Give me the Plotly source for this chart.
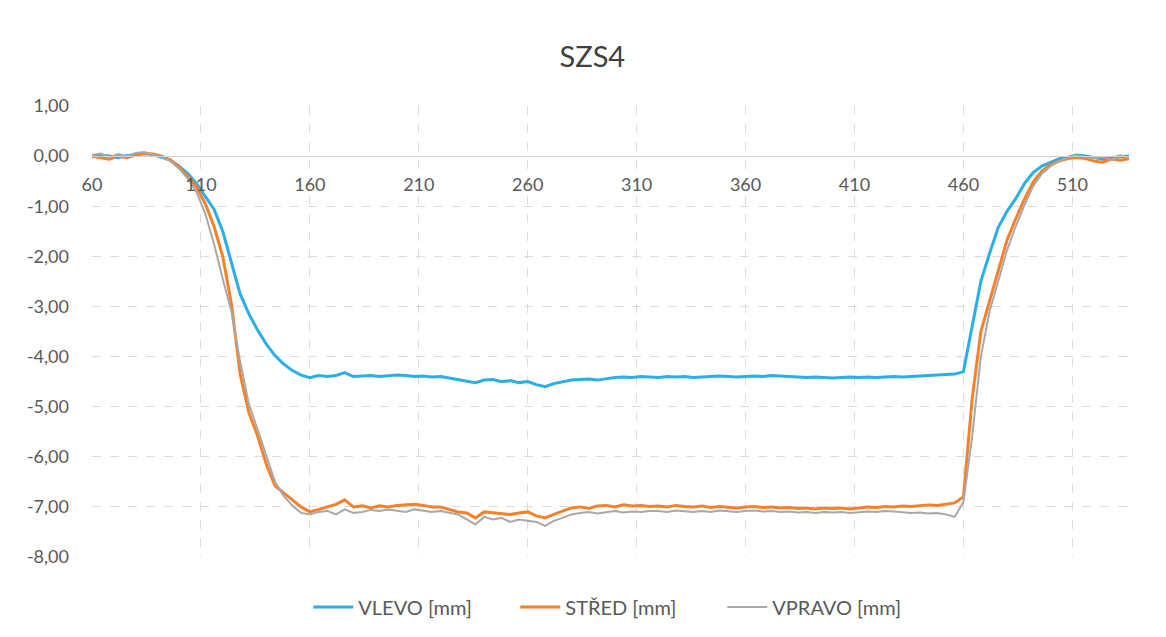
import plotly.graph_objects as go

# Measurement positions along the profile [mm]
position = list(range(60, 537, 4))

# Surface deviation [mm] for the three measuring lines
vlevo = [
    -0.02, 0.02, 0.00, -0.03, 0.01, 0.03, 0.05, 0.03, -0.02, -0.08,
    -0.20, -0.35, -0.55, -0.80, -1.06, -1.50, -2.10, -2.75, -3.15, -3.47,
    -3.75, -3.98, -4.15, -4.28, -4.37, -4.42,
    -4.38, -4.40, -4.38, -4.32, -4.40, -4.39, -4.38, -4.40, -4.39, -4.37,
    -4.38, -4.40, -4.39, -4.41, -4.40, -4.43, -4.45, -4.48, -4.52, -4.47,
    -4.46, -4.50, -4.48, -4.52, -4.50, -4.56, -4.60, -4.54, -4.50, -4.47,
    -4.46, -4.45, -4.47, -4.44, -4.42, -4.41, -4.42, -4.40, -4.41,
    -4.42, -4.40, -4.41, -4.40, -4.42, -4.41, -4.40, -4.39, -4.40, -4.41,
    -4.40, -4.39, -4.40, -4.38, -4.39, -4.40, -4.41, -4.42, -4.41, -4.42,
    -4.43, -4.42, -4.41, -4.42, -4.41, -4.42, -4.41, -4.40, -4.41, -4.40,
    -4.39, -4.39, -4.38, -4.37, -4.35,
    -4.30, -3.40, -2.50, -1.94, -1.42, -1.10, -0.85, -0.55, -0.33, -0.20,
    -0.12, -0.05, -0.02, 0.02, 0.00, -0.03, -0.06, -0.03, -0.02, 0.00,
]

stred = [
    0.00, -0.03, -0.06, 0.00, -0.03, 0.02, 0.05, 0.04, 0.00, -0.08,
    -0.22, -0.40, -0.62, -0.95, -1.40, -2.00, -2.95, -4.35, -5.12, -5.58,
    -6.15, -6.58, -6.72, -6.85, -7.00, -7.10,
    -7.05, -7.00, -6.95, -6.86, -7.00, -6.98, -7.02, -6.98, -7.00, -6.97,
    -6.96, -6.95, -6.97, -7.00, -7.00, -7.05, -7.10, -7.12, -7.22, -7.10,
    -7.12, -7.14, -7.15, -7.12, -7.10, -7.18, -7.22, -7.15, -7.08, -7.02,
    -7.00, -7.03, -6.98, -6.97, -7.00, -6.96, -6.98, -6.97, -6.99,
    -6.98, -7.00, -6.97, -6.99, -7.00, -6.98, -7.01, -6.99, -7.00, -7.02,
    -7.00, -6.99, -7.01, -7.00, -7.02, -7.01, -7.03, -7.02, -7.04, -7.02,
    -7.03, -7.02, -7.04, -7.02, -7.00, -7.01, -6.99, -7.00, -6.98, -6.99,
    -6.97, -6.96, -6.97, -6.95, -6.92,
    -6.80, -4.85, -3.50, -2.88, -2.30, -1.68, -1.25, -0.86, -0.52, -0.30,
    -0.17, -0.10, -0.05, -0.03, -0.05, -0.10, -0.12, -0.06, -0.08, -0.05,
]

vpravo = [
    0.02, 0.05, -0.02, 0.04, 0.00, 0.06, 0.08, 0.03, -0.02, -0.10,
    -0.25, -0.45, -0.72, -1.15, -1.75, -2.45, -3.10, -4.10, -4.95, -5.45,
    -6.00, -6.50, -6.78, -6.98, -7.12, -7.15,
    -7.10, -7.08, -7.15, -7.05, -7.12, -7.10, -7.06, -7.08, -7.05, -7.07,
    -7.10, -7.05, -7.08, -7.10, -7.08, -7.12, -7.15, -7.25, -7.35, -7.20,
    -7.25, -7.22, -7.30, -7.25, -7.28, -7.30, -7.38, -7.28, -7.22, -7.15,
    -7.12, -7.10, -7.13, -7.10, -7.08, -7.11, -7.09, -7.10, -7.08,
    -7.08, -7.10, -7.07, -7.09, -7.10, -7.08, -7.10, -7.07, -7.09, -7.10,
    -7.08, -7.07, -7.09, -7.08, -7.10, -7.09, -7.11, -7.10, -7.12, -7.10,
    -7.11, -7.10, -7.12, -7.10, -7.09, -7.10, -7.08, -7.09, -7.10, -7.12,
    -7.11, -7.13, -7.12, -7.15, -7.20,
    -6.90, -5.60, -4.00, -3.10, -2.50, -1.88, -1.40, -0.98, -0.60, -0.35,
    -0.20, -0.10, -0.03, 0.02, -0.02, -0.04, -0.02, -0.08, 0.02, -0.04,
]

# Value axis ticks, written with a decimal comma and a plain hyphen
y_ticks = [1, 0, -1, -2, -3, -4, -5, -6, -7, -8]
y_tick_labels = ["1,00", "0,00", "-1,00", "-2,00", "-3,00", "-4,00",
                 "-5,00", "-6,00", "-7,00", "-8,00"]

series = [
    ("VLEVO [mm]", vlevo, "#29aee8", 3),
    ("STŘED [mm]", stred, "#f5822a", 3),
    ("VPRAVO [mm]", vpravo, "#a8a8a8", 2),
]

font_family = "Lato, 'Open Sans', sans-serif"
text_color = "#595959"

fig = go.Figure()
for name, values, color, width in series:
    fig.add_trace(go.Scatter(
        x=position, y=values, name=name, mode="lines",
        line=dict(color=color, width=width),
    ))

y_min, y_max = -8, 1

fig.update_layout(
    width=1166, height=637,
    paper_bgcolor="white", plot_bgcolor="white",
    margin=dict(l=92, r=37, t=106, b=80, autoexpand=False),
    font=dict(family=font_family, size=18, color=text_color),
    title=dict(text="SZS4", x=0.508, xanchor="center", y=0.91, yanchor="middle",
               font=dict(family=font_family, size=29, color="#404040")),
    showlegend=True,
    legend=dict(orientation="h", x=0.508, xanchor="center",
                yref="container", y=0.047, yanchor="middle",
                font=dict(family=font_family, size=20, color=text_color),
                itemwidth=40, entrywidth=152, traceorder="normal"),
    xaxis=dict(
        range=[60, 536], tick0=60, dtick=50,
        anchor="free", position=(0 - y_min) / (y_max - y_min),
        showline=True, linecolor="#d0d0d0", linewidth=1,
        showgrid=True, gridcolor="#dcdcdc", griddash="dash", gridwidth=1,
        zeroline=False, ticks="", ticklabelstandoff=12,
        tickfont=dict(size=18, color=text_color),
    ),
    yaxis=dict(
        range=[y_min, y_max], tickvals=y_ticks, ticktext=y_tick_labels,
        showgrid=True, gridcolor="#dcdcdc", griddash="dash", gridwidth=1,
        zeroline=False, showline=False, ticks="", ticklabelstandoff=22,
        tickfont=dict(size=18, color=text_color),
    ),
)

fig.write_html("out.html")
